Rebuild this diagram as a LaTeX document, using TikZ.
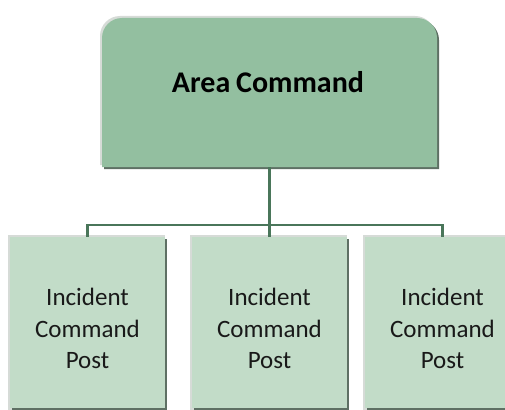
\documentclass[tikz,border=0pt]{standalone}
\usepackage{fontspec}
\setmainfont{Carlito}
\definecolor{topfill}{HTML}{93BFA0}
\definecolor{lowfill}{HTML}{C2DCC8}
\definecolor{linkc}{HTML}{4A765A}
\definecolor{shadowc}{HTML}{5E7064}
\definecolor{lightedge}{HTML}{D6DBD7}
\newcommand{\topshape}[2]{%
  (102+#1,-167+#2) -- (102+#1,-38+#2) arc[start angle=180,end angle=90,radius=20] -- (417+#1,-18+#2) arc[start angle=90,end angle=0,radius=20] -- (437+#1,-167+#2) -- cycle}
\begin{document}
\begin{tikzpicture}[x=1pt,y=1pt,
  boxnode/.style={minimum width=155pt,minimum height=171pt,inner sep=0pt},
  boxtext/.style={align=center,font=\fontsize{25}{31.5}\selectfont,text=black!90},
  link/.style={draw=linkc,line width=2.2pt}]
\useasboundingbox (0,0) rectangle (505,-409);
\clip (0,0) rectangle (505,-409);
% top box
\fill[lightedge] \topshape{-2}{2};
\fill[shadowc] \topshape{2}{-2};
\fill[topfill] \topshape{0}{0};
\node (area) [minimum width=335pt,minimum height=149pt,inner sep=0pt] at (269.5,-92.5) {};
\node (areatext) at (268,-82) {\fontsize{30}{36}\selectfont\bfseries Area\kern-1pt\ Command};
% bottom boxes
\foreach \n/\cx in {ic1/87.5, ic2/269.5, ic3/442.5} {
  \fill[lightedge] (\cx-79.5,-235) rectangle (\cx+77.5,-410);
  \fill[shadowc] (\cx-75.5,-239) rectangle (\cx+79.5,-410);
  \node (\n) [boxnode,fill=lowfill] at (\cx,-322.5) {};
  \node (\n t) [boxtext] at (\cx,-328.5) {Incident\\Command\\Post};
}
% connectors
\coordinate (bus) at (area.south |- 0,-225);
\draw[link] (area.south) -- (bus);
\draw[link] (ic1.north) |- (bus) -| (ic3.north);
\draw[link] (bus) -- (ic2.north);
\end{tikzpicture}
\end{document}
